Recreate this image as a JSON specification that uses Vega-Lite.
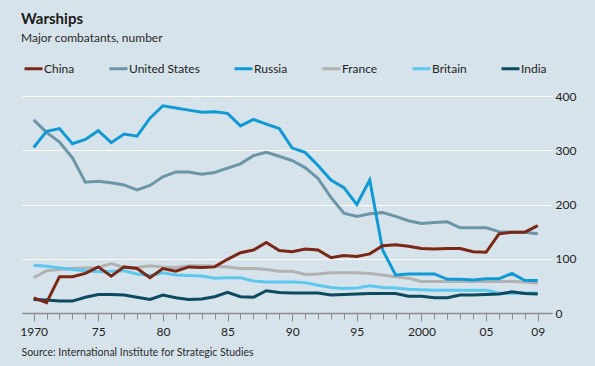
{
  "$schema": "https://vega.github.io/schema/vega-lite/v6.json",
  "width": 530,
  "height": 217,
  "autosize": {"type": "none"},
  "padding": {"left": 22, "top": 96, "right": 43, "bottom": 53},
  "background": "#d7e3ea",
  "title": {
    "text": "Warships",
    "subtitle": "Major combatants, number",
    "anchor": "start",
    "frame": "group",
    "font": "Lato",
    "fontSize": 15,
    "fontWeight": "bold",
    "color": "#1a1a1a",
    "subtitleFont": "Lato",
    "subtitleFontSize": 12,
    "subtitleColor": "#2a2a2a",
    "subtitlePadding": 6,
    "offset": 14,
    "dx": -1
  },
  "config": {"view": {"stroke": null}},
  "data": {"values": [
    {"year":1970,"country":"France","ships":65},{"year":1971,"country":"France","ships":78},{"year":1972,"country":"France","ships":80},{"year":1973,"country":"France","ships":82},{"year":1974,"country":"France","ships":83},{"year":1975,"country":"France","ships":84},{"year":1976,"country":"France","ships":91},{"year":1977,"country":"France","ships":84},{"year":1978,"country":"France","ships":84},{"year":1979,"country":"France","ships":87},{"year":1980,"country":"France","ships":85},{"year":1981,"country":"France","ships":84},{"year":1982,"country":"France","ships":87},{"year":1983,"country":"France","ships":87},{"year":1984,"country":"France","ships":86},{"year":1985,"country":"France","ships":85},{"year":1986,"country":"France","ships":82},{"year":1987,"country":"France","ships":82},{"year":1988,"country":"France","ships":80},{"year":1989,"country":"France","ships":77},{"year":1990,"country":"France","ships":77},{"year":1991,"country":"France","ships":71},{"year":1992,"country":"France","ships":72},{"year":1993,"country":"France","ships":74},{"year":1994,"country":"France","ships":74},{"year":1995,"country":"France","ships":74},{"year":1996,"country":"France","ships":73},{"year":1997,"country":"France","ships":70},{"year":1998,"country":"France","ships":67},{"year":1999,"country":"France","ships":64},{"year":2000,"country":"France","ships":58},{"year":2001,"country":"France","ships":58},{"year":2002,"country":"France","ships":58},{"year":2003,"country":"France","ships":58},{"year":2004,"country":"France","ships":58},{"year":2005,"country":"France","ships":58},{"year":2006,"country":"France","ships":58},{"year":2007,"country":"France","ships":58},{"year":2008,"country":"France","ships":57},{"year":2009,"country":"France","ships":55},
    {"year":1970,"country":"Britain","ships":88},{"year":1971,"country":"Britain","ships":86},{"year":1972,"country":"Britain","ships":83},{"year":1973,"country":"Britain","ships":80},{"year":1974,"country":"Britain","ships":78},{"year":1975,"country":"Britain","ships":76},{"year":1976,"country":"Britain","ships":77},{"year":1977,"country":"Britain","ships":78},{"year":1978,"country":"Britain","ships":72},{"year":1979,"country":"Britain","ships":69},{"year":1980,"country":"Britain","ships":74},{"year":1981,"country":"Britain","ships":70},{"year":1982,"country":"Britain","ships":69},{"year":1983,"country":"Britain","ships":68},{"year":1984,"country":"Britain","ships":64},{"year":1985,"country":"Britain","ships":65},{"year":1986,"country":"Britain","ships":65},{"year":1987,"country":"Britain","ships":59},{"year":1988,"country":"Britain","ships":57},{"year":1989,"country":"Britain","ships":57},{"year":1990,"country":"Britain","ships":57},{"year":1991,"country":"Britain","ships":56},{"year":1992,"country":"Britain","ships":51},{"year":1993,"country":"Britain","ships":47},{"year":1994,"country":"Britain","ships":45},{"year":1995,"country":"Britain","ships":46},{"year":1996,"country":"Britain","ships":50},{"year":1997,"country":"Britain","ships":47},{"year":1998,"country":"Britain","ships":46},{"year":1999,"country":"Britain","ships":44},{"year":2000,"country":"Britain","ships":43},{"year":2001,"country":"Britain","ships":42},{"year":2002,"country":"Britain","ships":42},{"year":2003,"country":"Britain","ships":42},{"year":2004,"country":"Britain","ships":42},{"year":2005,"country":"Britain","ships":42},{"year":2006,"country":"Britain","ships":37},{"year":2007,"country":"Britain","ships":36},{"year":2008,"country":"Britain","ships":37},{"year":2009,"country":"Britain","ships":37},
    {"year":1970,"country":"India","ships":25},{"year":1971,"country":"India","ships":24},{"year":1972,"country":"India","ships":22},{"year":1973,"country":"India","ships":22},{"year":1974,"country":"India","ships":29},{"year":1975,"country":"India","ships":34},{"year":1976,"country":"India","ships":34},{"year":1977,"country":"India","ships":33},{"year":1978,"country":"India","ships":29},{"year":1979,"country":"India","ships":25},{"year":1980,"country":"India","ships":33},{"year":1981,"country":"India","ships":28},{"year":1982,"country":"India","ships":25},{"year":1983,"country":"India","ships":26},{"year":1984,"country":"India","ships":30},{"year":1985,"country":"India","ships":38},{"year":1986,"country":"India","ships":30},{"year":1987,"country":"India","ships":29},{"year":1988,"country":"India","ships":41},{"year":1989,"country":"India","ships":38},{"year":1990,"country":"India","ships":37},{"year":1991,"country":"India","ships":37},{"year":1992,"country":"India","ships":37},{"year":1993,"country":"India","ships":33},{"year":1994,"country":"India","ships":34},{"year":1995,"country":"India","ships":35},{"year":1996,"country":"India","ships":36},{"year":1997,"country":"India","ships":36},{"year":1998,"country":"India","ships":36},{"year":1999,"country":"India","ships":31},{"year":2000,"country":"India","ships":31},{"year":2001,"country":"India","ships":28},{"year":2002,"country":"India","ships":28},{"year":2003,"country":"India","ships":33},{"year":2004,"country":"India","ships":33},{"year":2005,"country":"India","ships":34},{"year":2006,"country":"India","ships":35},{"year":2007,"country":"India","ships":39},{"year":2008,"country":"India","ships":36},{"year":2009,"country":"India","ships":35},
    {"year":1970,"country":"United States","ships":356},{"year":1971,"country":"United States","ships":333},{"year":1972,"country":"United States","ships":315},{"year":1973,"country":"United States","ships":286},{"year":1974,"country":"United States","ships":241},{"year":1975,"country":"United States","ships":243},{"year":1976,"country":"United States","ships":240},{"year":1977,"country":"United States","ships":236},{"year":1978,"country":"United States","ships":227},{"year":1979,"country":"United States","ships":235},{"year":1980,"country":"United States","ships":251},{"year":1981,"country":"United States","ships":260},{"year":1982,"country":"United States","ships":260},{"year":1983,"country":"United States","ships":256},{"year":1984,"country":"United States","ships":259},{"year":1985,"country":"United States","ships":267},{"year":1986,"country":"United States","ships":275},{"year":1987,"country":"United States","ships":290},{"year":1988,"country":"United States","ships":296},{"year":1989,"country":"United States","ships":289},{"year":1990,"country":"United States","ships":281},{"year":1991,"country":"United States","ships":268},{"year":1992,"country":"United States","ships":248},{"year":1993,"country":"United States","ships":213},{"year":1994,"country":"United States","ships":184},{"year":1995,"country":"United States","ships":178},{"year":1996,"country":"United States","ships":183},{"year":1997,"country":"United States","ships":185},{"year":1998,"country":"United States","ships":178},{"year":1999,"country":"United States","ships":170},{"year":2000,"country":"United States","ships":165},{"year":2001,"country":"United States","ships":167},{"year":2002,"country":"United States","ships":168},{"year":2003,"country":"United States","ships":157},{"year":2004,"country":"United States","ships":157},{"year":2005,"country":"United States","ships":157},{"year":2006,"country":"United States","ships":150},{"year":2007,"country":"United States","ships":149},{"year":2008,"country":"United States","ships":149},{"year":2009,"country":"United States","ships":146},
    {"year":1970,"country":"Russia","ships":305},{"year":1971,"country":"Russia","ships":335},{"year":1972,"country":"Russia","ships":340},{"year":1973,"country":"Russia","ships":312},{"year":1974,"country":"Russia","ships":320},{"year":1975,"country":"Russia","ships":336},{"year":1976,"country":"Russia","ships":314},{"year":1977,"country":"Russia","ships":330},{"year":1978,"country":"Russia","ships":326},{"year":1979,"country":"Russia","ships":359},{"year":1980,"country":"Russia","ships":382},{"year":1981,"country":"Russia","ships":378},{"year":1982,"country":"Russia","ships":374},{"year":1983,"country":"Russia","ships":370},{"year":1984,"country":"Russia","ships":371},{"year":1985,"country":"Russia","ships":368},{"year":1986,"country":"Russia","ships":345},{"year":1987,"country":"Russia","ships":357},{"year":1988,"country":"Russia","ships":348},{"year":1989,"country":"Russia","ships":340},{"year":1990,"country":"Russia","ships":304},{"year":1991,"country":"Russia","ships":296},{"year":1992,"country":"Russia","ships":272},{"year":1993,"country":"Russia","ships":245},{"year":1994,"country":"Russia","ships":231},{"year":1995,"country":"Russia","ships":200},{"year":1996,"country":"Russia","ships":245},{"year":1997,"country":"Russia","ships":116},{"year":1998,"country":"Russia","ships":70},{"year":1999,"country":"Russia","ships":72},{"year":2000,"country":"Russia","ships":72},{"year":2001,"country":"Russia","ships":72},{"year":2002,"country":"Russia","ships":62},{"year":2003,"country":"Russia","ships":62},{"year":2004,"country":"Russia","ships":61},{"year":2005,"country":"Russia","ships":63},{"year":2006,"country":"Russia","ships":63},{"year":2007,"country":"Russia","ships":73},{"year":2008,"country":"Russia","ships":60},{"year":2009,"country":"Russia","ships":60},
    {"year":1970,"country":"China","ships":28},{"year":1971,"country":"China","ships":19},{"year":1972,"country":"China","ships":67},{"year":1973,"country":"China","ships":67},{"year":1974,"country":"China","ships":73},{"year":1975,"country":"China","ships":85},{"year":1976,"country":"China","ships":68},{"year":1977,"country":"China","ships":85},{"year":1978,"country":"China","ships":82},{"year":1979,"country":"China","ships":65},{"year":1980,"country":"China","ships":82},{"year":1981,"country":"China","ships":77},{"year":1982,"country":"China","ships":85},{"year":1983,"country":"China","ships":84},{"year":1984,"country":"China","ships":85},{"year":1985,"country":"China","ships":99},{"year":1986,"country":"China","ships":111},{"year":1987,"country":"China","ships":116},{"year":1988,"country":"China","ships":130},{"year":1989,"country":"China","ships":115},{"year":1990,"country":"China","ships":113},{"year":1991,"country":"China","ships":118},{"year":1992,"country":"China","ships":116},{"year":1993,"country":"China","ships":102},{"year":1994,"country":"China","ships":106},{"year":1995,"country":"China","ships":104},{"year":1996,"country":"China","ships":109},{"year":1997,"country":"China","ships":124},{"year":1998,"country":"China","ships":126},{"year":1999,"country":"China","ships":123},{"year":2000,"country":"China","ships":119},{"year":2001,"country":"China","ships":118},{"year":2002,"country":"China","ships":119},{"year":2003,"country":"China","ships":119},{"year":2004,"country":"China","ships":113},{"year":2005,"country":"China","ships":112},{"year":2006,"country":"China","ships":146},{"year":2007,"country":"China","ships":149},{"year":2008,"country":"China","ships":149},{"year":2009,"country":"China","ships":161}
  ]},
  "mark": {"type": "line", "strokeWidth": 3},
  "encoding": {
    "x": {
      "field": "year",
      "type": "quantitative",
      "scale": {"domain": [1969.1, 2010.1], "nice": false, "zero": false},
      "axis": {
        "values": [1970,1971,1972,1973,1974,1975,1976,1977,1978,1979,1980,1981,1982,1983,1984,1985,1986,1987,1988,1989,1990,1991,1992,1993,1994,1995,1996,1997,1998,1999,2000,2001,2002,2003,2004,2005,2006,2007,2008,2009],
        "grid": false,
        "domainColor": "#8c8c8c",
        "domainWidth": 1.5,
        "tickColor": "#8c8c8c",
        "tickWidth": 1,
        "tickSize": {"condition": {"test": "indexof([1970,1975,1980,1985,1990,1995,2000,2005,2009], datum.value) >= 0", "value": 8}, "value": 6},
        "labelExpr": "indexof([1970,1975,1980,1985,1990,1995,2000,2005,2009], datum.value) < 0 ? '' : ((datum.value == 1970 || datum.value == 2000) ? '' + datum.value : slice('' + datum.value, 2))",
        "labelFont": "Lato",
        "labelFontSize": 12,
        "labelColor": "#222222",
        "labelPadding": 5,
        "labelOverlap": false,
        "labelFlush": false,
        "title": "Source: International Institute for Strategic Studies",
        "titleFont": "Lato",
        "titleFontSize": 10.5,
        "titleFontWeight": "normal",
        "titleColor": "#2a2a2a",
        "titleAnchor": "start",
        "titleAlign": "left",
        "titleBaseline": "alphabetic",
        "titleX": -1,
        "titleY": 42
      }
    },
    "y": {
      "field": "ships",
      "type": "quantitative",
      "scale": {"domain": [0, 400], "nice": false},
      "axis": {
        "orient": "right",
        "values": [0, 100, 200, 300, 400],
        "grid": true,
        "gridColor": {"condition": {"test": "datum.value === 0", "value": "#8c8c8c"}, "value": "#ffffff"},
        "gridWidth": 1.2,
        "domain": false,
        "ticks": false,
        "labelPadding": 3,
        "labelAlign": "left",
        "labelFont": "Lato",
        "labelFontSize": 12,
        "labelColor": "#222222",
        "title": null
      }
    },
    "color": {
      "field": "country",
      "type": "nominal",
      "scale": {
        "domain": ["China", "United States", "Russia", "France", "Britain", "India"],
        "range": ["#7a2717", "#6a96a8", "#0f9ad6", "#b2b2b2", "#5cc8ef", "#0c4a60"]
      },
      "legend": {
        "orient": "none",
        "legendX": 1,
        "legendY": -38,
        "direction": "horizontal",
        "title": null,
        "symbolType": "stroke",
        "symbolStrokeWidth": 3,
        "symbolSize": 324,
        "labelFont": "Lato",
        "labelFontSize": 12,
        "labelColor": "#222222",
        "labelOffset": 0,
        "columnPadding": 28
      }
    }
  }
}
